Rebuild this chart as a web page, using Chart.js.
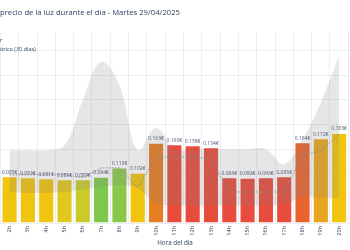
<!DOCTYPE html>
<html><head><meta charset="utf-8">
<script src="https://cdn.jsdelivr.net/npm/chart.js@4/dist/chart.umd.min.js"></script>
<style>html,body{margin:0;padding:0;background:#fff;}#wrap{width:350px;height:250px;position:relative;overflow:hidden;}</style>
</head><body><div id="wrap"><canvas id="c" width="350" height="250"></canvas></div>
<script>
const hours = [2,3,4,5,6,7,8,9,10,11,12,13,14,15,16,17,18,19,20];
const tickLabels = ['2h','3h','4h','5h','6h','7h','8h','9h','10h','11h','12h','13h','14h','15h','16h','17h','18h','19h','20h'];
const prices = [0.095,0.093,0.091,0.089,0.089,0.094,0.113,0.102,0.163,0.160,0.158,0.154,0.093,0.092,0.093,0.095,0.164,0.172,0.183];
const barColors = ['#f1c40f','#f1c40f','#f1c40f','#e2c71c','#c9cb2a','#7dc74b','#8bc84a','#f1c40f','#e67e22','#e74c3c','#e74c3c','#e74c3c','#e74c3c','#e74c3c','#e74c3c','#e74c3c','#e8632e','#e9a51d','#f1c40f'];
const ayer = [0.098,0.098,0.098,0.098,0.092,0.112,0.112,0.073,0.134,0.134,0.134,0.130,0.063,0.063,0.063,0.063,0.138,0.146,0.181];
const histMax = [0.148,0.148,0.148,0.158,0.250,0.327,0.280,0.148,0.193,0.150,0.150,0.150,0.150,0.150,0.150,0.120,0.170,0.245,0.340];
const histMin = [0.062,0.061,0.061,0.063,0.068,0.073,0.077,0.070,0.040,0.036,0.035,0.035,0.036,0.036,0.036,0.038,0.053,0.051,0.052];
const yTicks = [0,0.05,0.1,0.15,0.2,0.25,0.3,0.35];
const titleText = 'precio de la luz durante el día - Martes 29/04/2025';
const xTitle = 'Hora del día';
const legendAyer = 'Ayer';
const legendHist = 'Histórico (30 días)';

const pts = arr => hours.map((h,i)=>({x:h,y:arr[i]}));
const FONT = '"Open Sans", "DejaVu Sans", sans-serif';

const extras = {
  id:'extras',
  afterDatasetsDraw(chart){
    const ctx = chart.ctx;
    const meta = chart.getDatasetMeta(0);
    ctx.save();
    ctx.font = '5px ' + FONT;
    ctx.fillStyle = '#4f5b72';
    ctx.textAlign = 'center';
    ctx.textBaseline = 'bottom';
    meta.data.forEach((bar,i)=>{
      ctx.fillText(prices[i].toFixed(3)+'€', bar.x, bar.y-1.5);
    });
    ctx.restore();
  },
  afterDraw(chart){
    const ctx = chart.ctx;
    ctx.save();
    ctx.font = '5.5px ' + FONT;
    ctx.fillStyle = '#2a3f5f';
    ctx.textBaseline = 'middle';
    ctx.textAlign = 'left';
    ctx.fillText(legendAyer, -ctx.measureText('Aye').width, 40);
    ctx.fillText(legendHist, -ctx.measureText('Hist').width, 49);
    ctx.restore();
  }
};

new Chart(document.getElementById('c'), {
  type:'bar',
  data:{
    datasets:[
      {type:'bar', data:pts(prices), backgroundColor:barColors, borderColor:'rgba(255,255,255,0.55)', borderWidth:1, barPercentage:0.88, categoryPercentage:1.0, order:3},
      {type:'line', data:pts(histMin), borderWidth:0, pointRadius:0, tension:0.4, fill:false, order:2},
      {type:'line', data:pts(histMax), borderWidth:0, pointRadius:0, tension:0.4, fill:'-1', backgroundColor:'rgba(128,128,128,0.2)', order:1},
      {type:'line', data:pts(ayer), borderColor:'#8a8a8a', borderWidth:1, borderDash:[1.5,1.5], pointRadius:0, tension:0, fill:false, order:0}
    ]
  },
  options:{
    responsive:false, animation:false, devicePixelRatio:1,
    layout:{padding:0},
    plugins:{
      legend:{display:false}, tooltip:{enabled:false},
      title:{display:true, text:titleText, align:'start', color:'#2a3f5f', font:{family:FONT, size:7.7, weight:'normal'}, padding:{top:8.3, bottom:14.5}}
    },
    scales:{
      x:{type:'linear', min:1.98, max:20.09,
        afterBuildTicks:s=>{ s.ticks = hours.map(h=>({value:h})); },
        afterFit:s=>{ s.height = 27; },
        ticks:{autoSkip:false, maxRotation:90, minRotation:90, padding:3, color:'#2a3f5f', font:{family:FONT, size:5.5},
          callback:(v)=>{ const i = hours.indexOf(v); return i>=0 ? tickLabels[i] : ''; }},
        grid:{color:'#ebeef3', drawTicks:false}, border:{display:false},
        title:{display:true, text:xTitle, color:'#2a3f5f', font:{family:FONT, size:6.3}, padding:{top:0,bottom:3}}
      },
      y:{min:0, max:0.388,
        afterBuildTicks:s=>{ s.ticks = yTicks.map(v=>({value:v})); },
        ticks:{display:false}, grid:{color:'#ebeef3', drawTicks:false}, border:{display:false}
      }
    }
  },
  plugins:[extras]
});
</script></body></html>
